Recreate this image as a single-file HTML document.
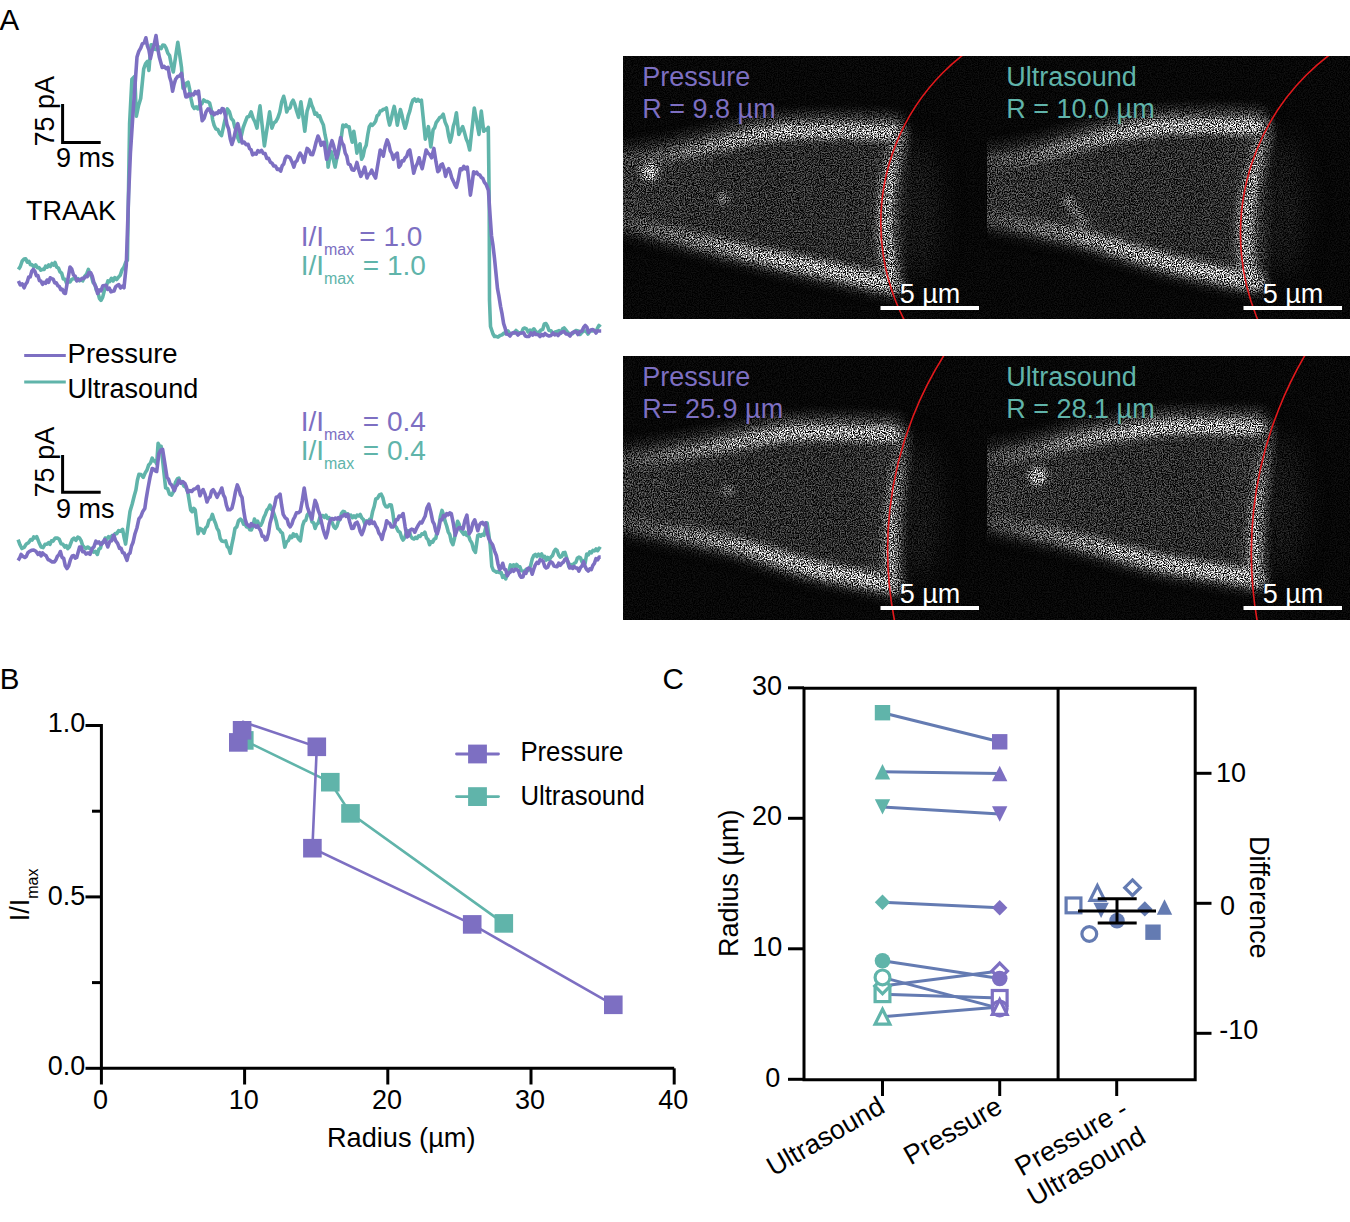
<!DOCTYPE html>
<html><head><meta charset="utf-8"><style>
html,body{margin:0;padding:0;background:#fff;overflow:hidden;}
svg{display:block;}
text{font-family:"Liberation Sans",sans-serif;}
</style></head><body>
<svg width="1350" height="1222" viewBox="0 0 1350 1222">
<rect width="1350" height="1222" fill="#fff"/>
<text x="-0.5" y="30" font-size="29.5" fill="#000" text-anchor="start" >A</text>
<polyline points="18.4,269.4 20.3,266.5 22.2,261.0 24.1,259.1 25.7,258.8 27.3,262.1 28.9,261.4 30.5,264.7 32.1,264.8 33.8,266.9 35.6,264.8 37.3,267.6 39.0,267.5 40.8,270.2 42.5,269.4 44.1,269.5 45.6,266.2 47.2,267.2 48.8,264.9 50.4,266.5 52.0,263.5 53.5,265.1 55.1,262.5 56.7,267.1 58.4,268.0 60.0,271.8 61.7,273.2 63.3,279.0 65.0,279.3 66.6,283.2 68.3,281.4 70.0,281.9 71.8,279.3 73.5,278.6 75.0,278.3 76.6,280.4 78.1,278.7 79.6,280.8 81.2,279.8 82.7,280.9 84.6,276.4 86.5,274.3 88.4,269.4 90.0,274.1 91.6,276.8 93.1,282.6 94.7,283.7 96.3,290.1 97.8,292.0 99.4,298.3 101.0,300.4 102.7,297.1 104.5,290.1 106.2,286.6 107.9,280.9 109.6,281.7 111.4,278.3 113.1,280.9 114.8,277.6 116.6,279.5 118.3,277.4 120.2,275.3 122.1,269.7 124.0,267.1 125.7,262.4 127.4,260.2 129.6,123.7 131.9,79.3 134.8,76.3 136.3,116.3 138.5,105.8 140.7,98.5 142.2,83.7 143.7,68.9 145.6,63.6 147.4,61.5 148.9,70.4 151.1,44.7 152.8,45.2 154.6,49.2 156.3,49.6 157.9,49.1 159.5,47.1 161.2,48.5 162.8,45.1 164.4,45.2 166.1,48.1 167.9,53.3 169.6,55.6 171.4,65.1 173.3,71.9 174.8,62.0 176.3,52.1 177.8,42.2 179.7,54.8 181.5,67.4 183.0,88.1 184.7,87.5 186.4,83.3 188.1,82.2 189.6,89.1 191.1,99.1 192.6,105.9 194.3,108.4 196.1,106.8 197.8,108.9 199.8,105.0 201.7,104.0 203.7,100.0 205.7,101.4 207.6,101.6 209.6,103.0 211.1,109.0 212.6,119.6 214.1,125.2 215.9,129.0 217.8,129.5 219.7,133.6 221.5,135.6 223.5,126.7 225.4,117.8 227.4,108.9 229.4,111.8 231.3,118.5 233.3,120.7 234.8,127.4 236.3,130.0 237.8,137.9 239.3,141.5 241.3,135.8 243.2,127.5 245.2,122.2 247.2,117.0 249.1,116.5 251.1,111.9 253.1,118.3 255.0,122.0 257.0,128.1 258.5,115.9 260.0,105.9 262.2,125.9 264.4,145.9 266.1,134.6 267.9,123.2 269.6,111.9 271.9,128.1 273.9,122.9 275.8,121.6 277.8,117.8 279.8,112.1 281.7,101.9 283.7,96.3 285.2,102.5 286.7,111.9 288.4,108.5 290.0,108.0 291.6,102.6 293.1,100.2 294.6,103.8 296.2,109.6 298.6,117.3 300.9,101.8 302.9,116.6 304.8,131.3 307.1,111.1 308.6,106.4 310.2,99.4 311.8,105.3 313.3,108.8 314.9,114.2 316.5,113.1 318.0,116.4 319.6,115.8 321.5,121.1 323.4,125.1 325.0,134.7 326.6,142.2 328.1,167.1 329.6,158.3 331.2,151.6 333.1,158.5 335.1,167.1 336.7,159.0 338.2,153.7 339.8,145.3 341.4,136.5 342.9,125.1 344.4,126.7 346.0,124.9 347.6,126.7 349.1,126.7 350.6,135.1 352.2,142.2 353.8,131.3 355.4,141.6 356.9,153.1 358.4,147.2 360.0,143.8 361.6,159.3 363.1,156.2 364.7,148.5 366.2,145.3 367.8,134.5 369.3,126.7 370.9,124.1 372.4,125.4 374.0,123.6 375.6,121.3 377.1,115.8 378.6,114.8 380.2,111.1 381.8,110.8 383.3,109.2 384.8,109.2 386.4,108.0 388.0,118.0 389.6,125.1 391.1,119.6 392.7,112.1 394.2,106.4 395.8,114.5 397.3,125.1 398.9,116.5 400.4,109.6 402.0,115.3 403.5,122.6 405.1,128.2 406.6,123.1 408.2,115.8 409.8,111.2 411.3,104.6 412.9,100.2 414.6,98.8 416.3,101.2 418.0,99.4 419.7,101.2 421.4,100.2 423.4,119.7 425.3,139.1 426.9,133.3 428.4,126.7 430.8,146.9 433.1,129.8 434.7,127.6 436.2,122.6 437.8,120.4 439.6,117.7 441.4,116.8 443.2,114.2 445.1,122.1 447.1,126.7 448.6,135.5 450.2,142.2 451.8,135.5 453.3,126.2 454.8,121.6 456.4,112.7 458.8,134.4 460.8,130.2 462.7,126.7 464.4,132.1 466.2,138.9 467.9,142.8 469.7,150.0 471.2,136.0 472.8,122.0 474.3,108.0 475.9,116.8 477.4,125.6 479.0,134.4 481.3,111.1 483.7,131.3 485.2,129.4 486.8,130.1 488.3,127.4 489.2,200.0 489.5,300.0 490.5,326.5 493.0,334.0 494.5,336.5 496.0,336.4 498.0,337.1 500.0,335.5 502.0,334.9 504.0,333.0 506.0,333.8 508.0,331.0 510.0,333.8 512.0,333.5 514.0,333.1 516.0,330.5 518.0,332.4 520.0,333.0 521.6,332.6 523.2,328.7 524.8,328.0 526.4,328.8 528.0,332.0 530.0,330.1 531.9,331.1 533.9,328.8 535.5,331.3 537.0,333.0 539.0,332.3 541.0,330.0 542.7,329.6 544.3,324.0 546.0,323.5 547.5,326.2 549.0,330.5 551.0,330.7 553.0,334.0 555.0,331.9 557.0,331.5 559.0,330.5 561.0,333.0 562.5,329.1 564.1,328.0 567.0,331.5 569.0,333.7 571.0,334.0 572.7,333.6 574.5,331.3 576.2,330.5 578.1,330.9 580.0,334.5 582.0,332.3 584.0,331.0 586.0,331.0 588.0,334.0 590.0,330.8 592.0,331.0 594.0,330.3 596.0,332.0 597.5,328.1 599.0,325.5 600.5,327.0" fill="none" stroke="#60b4aa" stroke-width="3.6" stroke-linejoin="round"/>
<polyline points="18.4,280.9 20.3,284.9 22.2,283.8 24.1,287.8 25.6,284.3 27.2,282.1 28.7,277.0 30.2,277.0 31.8,271.1 33.3,269.4 34.8,271.1 36.4,275.6 37.9,275.6 39.4,280.5 41.0,281.2 42.5,284.3 44.0,282.4 45.6,283.3 47.1,280.0 48.6,282.3 50.2,277.8 51.7,278.6 53.2,279.1 54.7,282.9 56.3,282.8 57.8,285.6 59.3,286.5 60.8,289.6 62.4,289.4 63.9,292.8 65.4,293.5 66.9,284.7 68.5,275.9 70.0,267.1 71.7,268.9 73.5,275.1 75.2,276.3 76.9,280.9 78.6,279.6 80.3,280.1 82.1,278.3 83.8,278.6 85.5,276.6 87.2,276.8 89.0,272.5 90.7,272.8 92.4,276.6 94.2,283.8 95.9,286.7 97.6,293.5 99.3,290.0 101.0,290.9 102.8,285.8 104.5,285.5 106.1,285.2 107.7,289.3 109.3,288.1 110.9,291.8 112.5,291.2 114.0,291.0 115.6,286.8 117.1,285.5 118.8,284.6 120.5,288.0 122.3,286.2 124.0,287.8 126.3,264.8 128.6,195.9 130.4,153.3 133.3,108.9 135.2,83.0 137.0,57.0 138.8,51.4 140.7,48.1 142.4,43.6 144.2,42.9 145.9,37.8 147.4,45.8 148.9,50.0 150.4,58.5 152.3,50.0 154.1,44.9 156.0,35.6 157.7,48.0 159.3,57.0 162.2,67.4 164.2,66.4 166.1,68.6 168.1,67.4 169.6,77.0 171.1,81.8 172.6,91.1 174.1,84.1 175.6,79.3 177.6,76.6 179.5,76.1 181.5,73.3 183.7,86.5 185.9,97.0 187.4,96.8 188.9,93.8 190.4,95.5 191.9,94.0 193.6,94.9 195.2,91.7 196.8,93.6 198.5,91.1 200.3,105.9 202.2,120.7 204.2,118.1 206.1,111.7 208.1,108.9 209.6,109.3 211.1,113.1 212.6,112.1 214.1,114.8 215.7,113.0 217.3,113.5 218.9,110.8 220.5,112.6 222.1,108.6 223.7,108.9 225.3,115.5 227.0,124.6 228.6,128.8 230.3,139.0 231.9,144.4 233.9,138.1 235.8,129.2 237.8,123.7 240.0,132.9 242.2,143.0 244.2,142.2 246.1,144.7 248.1,144.4 249.6,148.6 251.1,149.7 252.6,154.8 254.4,153.4 256.2,154.2 257.9,150.6 259.7,152.0 261.5,150.4 263.3,153.4 265.1,153.5 266.8,158.4 268.6,158.4 270.4,162.2 272.1,163.3 273.8,166.0 275.5,166.0 277.3,169.5 279.0,169.1 280.7,171.1 282.2,165.7 283.7,164.1 285.2,158.6 286.7,156.3 288.4,156.7 290.0,157.8 291.9,161.7 293.9,167.1 295.4,162.1 297.0,160.7 298.6,156.0 300.1,153.1 302.1,156.4 304.0,162.4 305.6,154.5 307.1,148.4 308.9,150.1 310.8,154.4 312.6,154.7 314.4,149.0 316.2,141.8 318.0,136.0 319.6,139.8 321.1,145.3 322.6,142.5 324.2,142.2 326.6,159.3 328.4,154.5 330.2,146.4 332.0,140.7 333.6,145.6 335.1,152.5 336.7,157.8 338.6,148.7 340.6,137.6 342.1,142.9 343.7,145.3 345.2,153.0 346.8,156.1 348.3,164.0 350.1,164.6 352.0,169.7 353.8,170.2 355.4,167.7 356.9,162.4 358.9,170.4 360.8,176.4 362.8,172.4 364.7,167.1 367.0,178.0 368.6,174.1 370.1,173.6 371.7,170.2 373.6,174.6 375.6,178.0 377.1,168.7 378.7,159.3 380.2,150.0 381.8,152.1 383.3,156.2 385.2,146.4 387.2,139.9 388.8,144.2 390.3,150.8 391.8,153.5 393.4,159.3 395.4,155.1 397.3,153.1 398.9,167.1 400.4,165.3 402.0,160.7 403.6,160.9 405.1,157.8 406.7,156.4 408.2,151.6 409.8,150.0 411.8,161.3 413.7,173.3 415.5,167.0 417.3,163.5 419.1,157.8 420.6,163.7 422.2,168.7 424.1,159.8 426.1,150.0 427.9,153.2 429.8,154.7 431.6,157.8 433.9,148.4 435.9,161.4 437.8,171.8 439.3,170.3 440.9,164.8 442.4,164.0 444.0,168.5 445.6,176.4 447.1,170.8 448.7,168.7 450.2,172.1 451.8,178.0 453.3,181.1 454.9,184.9 456.4,187.3 458.4,179.2 460.3,168.7 462.1,169.6 463.8,166.4 465.6,168.9 467.3,167.1 468.9,181.1 470.4,195.1 472.0,184.2 473.6,171.8 475.2,173.5 476.7,172.2 478.2,174.5 479.8,174.9 481.4,177.6 482.9,178.6 484.4,182.4 486.0,184.2 488.4,190.3 489.9,213.0 491.5,235.7 493.0,245.6 494.5,258.4 496.0,273.5 497.5,288.7 499.0,296.7 500.6,306.6 502.1,314.2 503.6,323.5 505.1,328.1 506.6,334.1 508.3,334.4 510.0,336.0 512.0,333.1 514.0,332.5 516.0,332.7 518.0,335.0 520.0,333.2 522.0,333.0 523.7,332.9 525.3,336.0 527.0,336.5 529.0,336.4 531.0,333.0 532.7,335.2 534.3,332.6 536.0,334.5 538.0,334.5 540.0,336.5 541.7,334.4 543.3,335.7 545.0,333.5 547.0,335.2 549.0,336.0 551.0,335.5 553.0,333.0 554.7,334.9 556.3,334.0 558.0,335.5 560.0,333.3 562.0,332.0 564.0,331.5 566.0,334.0 568.0,334.1 570.0,336.0 572.0,332.9 574.0,332.0 576.0,331.6 578.0,334.5 580.0,331.5 582.0,331.0 583.6,327.5 585.3,325.5 586.9,327.2 588.5,332.5 590.7,330.1 592.9,329.5 594.5,330.9 596.0,333.0 597.5,330.7 599.0,331.0 601.2,331.0" fill="none" stroke="#7d6fc2" stroke-width="3.6" stroke-linejoin="round"/>
<polyline points="18.1,539.6 20.0,544.8 21.9,548.5 24.1,547.4 26.3,544.1 28.5,542.7 30.7,539.6 32.2,540.1 33.7,536.9 35.2,537.9 36.7,536.7 38.9,542.2 41.1,547.0 43.1,547.6 45.0,544.3 47.0,544.1 48.5,542.7 50.0,544.4 51.5,540.8 53.0,541.1 55.2,538.0 57.4,538.1 59.2,539.3 61.1,543.8 62.9,544.2 64.8,547.0 66.3,545.7 67.8,548.6 69.3,547.0 72.2,539.6 74.0,538.1 75.9,540.3 77.8,537.1 79.6,538.1 81.1,540.6 82.6,545.5 84.1,547.0 85.9,548.6 87.8,547.0 89.7,548.5 91.5,548.5 93.5,552.1 95.4,551.4 97.4,554.4 98.9,549.1 100.4,548.2 101.9,542.6 103.6,542.5 105.2,538.0 106.8,539.1 108.5,536.7 110.2,538.2 112.0,535.7 113.7,536.7 115.2,533.5 116.7,533.7 118.7,530.6 120.6,531.3 122.6,529.3 124.1,537.3 125.6,544.1 127.8,527.8 130.0,511.5 132.2,504.0 134.4,495.2 135.9,490.0 137.4,480.3 138.9,474.4 141.1,474.6 143.3,477.4 145.2,472.9 147.0,470.0 148.7,464.9 150.5,463.0 152.2,458.1 153.7,461.0 155.2,460.9 156.7,464.1 158.1,443.3 159.6,446.0 161.1,446.3 162.6,460.1 164.1,474.0 165.6,487.8 167.6,488.6 169.5,494.1 171.5,495.2 173.5,491.5 175.4,482.7 177.4,478.9 178.9,478.1 180.4,482.2 181.9,481.9 183.9,485.9 185.8,487.2 187.8,492.2 190.7,510.0 192.2,511.7 193.7,508.3 195.2,510.0 198.1,533.7 200.0,528.4 201.9,529.6 203.9,533.1 205.6,528.0 207.3,526.3 209.0,520.3 210.7,519.3 212.4,514.4 214.0,519.8 215.5,523.3 217.1,528.4 218.7,531.0 220.2,538.5 221.8,540.9 223.8,541.4 225.7,540.9 227.2,546.5 228.8,548.2 230.3,553.3 231.9,544.4 233.4,537.5 235.0,528.4 236.8,526.8 238.6,520.6 240.4,519.1 242.0,520.6 243.6,524.2 245.1,524.5 246.7,526.9 248.2,526.5 249.8,529.8 251.3,530.0 252.9,526.2 254.4,519.1 256.0,522.4 257.6,521.1 259.1,525.5 260.7,525.3 262.2,522.5 263.8,517.6 265.3,514.4 266.9,510.1 268.4,508.6 270.0,505.1 271.6,509.4 273.1,511.4 274.7,516.0 276.2,521.0 277.8,528.4 279.3,529.4 280.9,532.0 282.4,533.1 284.8,547.1 286.6,541.9 288.4,540.6 290.2,536.2 291.8,537.6 293.3,533.8 294.8,536.0 296.4,534.7 298.4,538.8 300.3,540.9 302.7,525.3 304.2,521.1 305.8,520.4 307.3,514.8 308.9,512.9 310.4,515.6 312.0,521.9 313.6,522.8 315.1,528.4 316.7,524.2 318.2,523.2 319.8,517.7 321.3,516.0 322.9,515.6 324.4,517.4 326.0,515.2 327.5,518.4 329.1,517.6 330.7,521.4 332.2,522.6 333.8,526.7 335.3,528.4 336.9,526.2 338.4,521.2 340.0,519.4 341.5,513.4 343.1,511.3 344.7,512.0 346.2,514.9 347.8,513.8 349.3,516.0 350.9,515.1 352.5,517.7 354.0,515.8 355.6,517.6 357.1,515.1 358.7,515.9 360.2,514.4 361.8,518.0 363.3,519.3 364.9,523.8 366.4,520.9 368.0,522.2 369.6,519.3 371.1,519.1 372.7,511.2 374.2,506.5 375.8,498.9 377.6,498.2 379.4,495.0 381.2,494.2 382.8,497.5 384.3,503.8 385.9,506.7 387.7,507.0 389.5,504.7 391.3,505.1 392.9,513.7 394.4,525.3 396.3,527.2 398.1,531.1 400.0,532.2 401.6,537.5 403.1,540.0 404.7,537.7 406.2,533.1 407.8,530.7 409.3,531.7 410.9,536.5 412.4,538.4 414.0,539.0 415.5,537.4 417.1,538.4 418.7,535.8 420.2,536.4 421.8,533.9 423.3,534.3 424.9,532.2 426.5,537.9 428.0,539.5 429.6,544.7 431.2,541.5 432.7,542.2 434.2,539.1 435.8,538.4 437.4,530.1 438.9,526.0 440.4,516.4 442.0,510.4 443.6,514.9 445.1,521.3 446.7,526.0 448.2,531.8 449.8,534.7 451.3,541.5 452.9,544.7 454.5,538.5 456.0,528.5 457.6,521.3 459.1,524.2 460.7,530.1 462.2,532.2 463.8,534.3 465.3,532.2 466.8,535.4 468.4,535.3 470.1,540.1 471.9,543.1 473.6,549.6 475.4,552.4 477.8,535.3 479.4,534.5 480.9,536.2 482.4,534.3 484.0,535.3 485.6,528.1 487.1,522.9 488.6,532.9 490.2,544.7 491.8,566.4 493.4,570.4 494.9,571.1 496.5,572.2 498.0,571.8 499.6,572.7 501.2,572.5 502.7,577.4 504.2,575.6 505.8,578.9 507.3,573.2 508.9,571.3 510.4,564.9 512.0,566.9 513.5,564.8 515.1,567.2 516.6,564.5 518.2,566.4 519.8,566.7 521.3,570.6 522.9,571.1 524.5,571.5 526.0,569.5 527.5,570.7 529.1,569.6 530.7,565.4 532.2,559.1 533.8,555.6 535.4,554.5 536.9,556.5 538.5,554.2 540.0,556.0 541.6,554.0 543.1,557.4 544.7,556.4 546.2,560.2 547.8,557.5 549.3,559.8 550.9,557.1 552.5,555.7 554.0,551.5 555.6,549.3 557.1,550.5 558.7,555.1 560.2,557.1 561.8,556.3 563.3,552.7 564.9,552.4 566.8,558.3 568.8,566.4 570.6,564.4 572.4,566.0 574.2,563.3 575.8,562.5 577.3,558.3 578.9,557.1 580.5,557.9 582.0,561.8 583.5,560.7 585.1,563.3 586.7,554.0 588.3,554.9 589.8,551.9 591.4,552.8 592.9,550.4 594.5,550.9 596.0,549.0 597.6,550.7 599.2,548.2 600.7,549.3" fill="none" stroke="#60b4aa" stroke-width="3.6" stroke-linejoin="round"/>
<polyline points="18.1,560.4 19.6,558.1 21.1,554.4 23.0,556.4 24.8,557.4 26.3,556.4 27.8,552.9 29.3,551.5 31.5,550.3 33.7,550.0 35.9,551.3 38.1,554.4 39.6,552.7 41.1,555.9 42.6,552.9 44.1,554.4 46.1,555.7 48.0,559.5 50.0,560.4 52.2,561.9 54.4,561.9 55.9,559.9 57.4,556.2 58.9,554.8 60.4,551.5 62.0,557.4 63.7,558.4 65.3,565.8 67.0,568.5 68.7,565.8 70.5,559.5 72.2,555.9 73.7,555.6 75.2,558.2 76.7,557.4 79.6,547.0 81.1,547.1 82.6,551.6 84.1,551.5 86.1,554.1 88.0,552.9 90.0,554.4 92.0,548.7 93.9,546.9 95.9,541.1 97.4,542.9 98.9,542.0 100.4,544.4 101.9,544.1 104.8,539.6 106.3,542.8 107.8,547.0 109.8,541.4 111.7,540.7 113.7,535.2 115.7,540.8 117.6,543.3 119.6,548.5 121.1,548.3 122.6,552.7 124.1,553.0 127.0,560.4 128.5,554.3 130.0,553.1 131.5,546.0 133.0,542.6 135.0,533.7 136.9,528.0 138.9,518.9 140.9,516.4 142.8,511.4 144.8,508.5 146.3,498.1 147.8,489.3 150.0,477.4 152.2,468.5 153.7,469.1 155.2,470.9 156.7,471.5 158.9,453.7 160.8,450.2 162.6,449.3 164.8,463.4 167.0,477.4 168.5,479.1 170.0,483.5 171.5,484.8 174.4,490.7 175.9,486.2 177.4,484.7 178.9,480.4 180.9,483.2 182.8,481.7 184.8,483.3 186.3,486.8 187.8,492.2 189.8,490.6 191.7,491.5 193.7,489.3 195.9,488.6 198.1,486.3 200.0,495.8 201.6,491.8 203.1,489.6 205.1,494.4 207.0,502.0 208.6,498.1 210.1,497.0 211.6,491.0 213.2,489.6 215.1,492.9 217.1,497.3 218.7,493.8 220.2,491.8 221.8,488.0 223.4,494.9 224.9,497.7 226.4,505.1 228.0,509.8 229.9,509.8 231.9,508.2 233.7,501.0 235.5,491.6 237.3,484.9 238.9,488.6 240.4,494.5 242.0,497.3 243.6,509.9 245.1,519.1 246.6,523.9 248.2,525.3 249.8,526.7 251.3,523.6 252.8,525.7 254.4,525.3 256.0,527.1 257.5,525.6 259.1,528.4 260.6,530.8 262.2,536.2 263.8,536.3 265.3,540.0 266.9,539.3 268.5,533.3 270.0,523.3 271.6,517.6 273.1,510.1 274.7,504.7 276.2,497.3 278.1,496.7 280.1,494.2 281.6,504.9 283.2,514.4 285.1,517.7 287.1,519.1 288.6,524.7 290.2,526.9 291.8,524.2 293.3,519.5 294.8,516.8 296.4,512.9 298.4,512.7 300.3,511.3 302.2,501.1 304.2,488.0 305.8,498.2 307.3,506.7 308.9,511.6 310.4,514.5 312.0,519.1 313.6,508.0 315.1,500.4 316.7,504.1 318.2,510.4 319.8,514.4 321.4,521.8 322.9,528.4 324.4,533.5 326.0,537.8 327.6,532.2 329.1,524.0 330.7,519.1 332.2,518.5 333.8,519.5 335.3,518.0 336.9,519.1 338.4,517.6 340.0,519.3 341.6,516.2 343.1,516.0 344.7,514.3 346.2,516.4 347.8,514.4 349.8,522.3 351.7,528.4 353.5,528.1 355.3,523.2 357.1,522.2 358.7,525.7 360.2,531.5 361.8,534.7 363.3,530.9 364.9,525.4 366.4,522.2 368.0,521.5 369.5,523.8 371.1,520.6 372.6,523.3 374.2,522.2 375.8,526.0 377.3,528.3 378.9,533.2 380.4,535.2 382.0,539.3 383.6,532.4 385.1,528.5 386.7,520.7 388.2,522.8 389.8,523.4 391.3,527.0 392.9,526.9 394.4,525.3 396.0,519.7 397.6,519.7 399.1,516.0 401.1,516.5 403.1,513.6 405.1,526.6 407.0,536.9 408.6,535.8 410.1,530.3 411.7,529.1 413.2,529.6 414.8,532.2 416.8,527.8 418.7,524.4 420.2,522.2 421.8,523.0 423.3,519.8 425.1,516.3 427.0,507.7 428.8,504.2 430.8,511.9 432.7,521.3 434.2,524.2 435.8,531.1 437.3,533.8 438.9,528.1 440.4,519.8 442.0,519.8 443.5,515.6 445.1,516.5 446.7,513.6 448.2,514.9 449.8,512.9 451.3,513.6 453.2,522.8 455.2,535.3 457.1,529.7 459.1,527.6 461.1,527.9 463.0,529.1 464.9,520.3 466.9,515.1 469.2,533.8 471.0,530.9 472.9,523.1 474.7,519.8 476.2,524.8 477.8,530.7 479.4,525.1 480.9,522.9 482.5,522.4 484.0,524.7 485.6,522.9 487.1,532.0 488.7,538.4 490.6,542.0 492.6,544.7 494.5,550.8 496.4,555.6 498.0,563.9 499.6,569.6 501.1,567.6 502.7,563.3 504.2,568.9 505.8,569.9 507.3,575.8 508.9,573.1 510.4,572.0 512.0,569.6 513.6,571.3 515.1,569.2 516.7,569.6 518.2,570.5 519.8,575.3 521.3,577.3 522.9,577.0 524.4,572.1 526.0,573.3 527.5,568.7 529.1,568.0 530.7,569.5 532.2,574.2 533.8,568.9 535.3,564.9 536.9,562.4 538.5,563.4 540.0,559.7 541.6,560.2 543.1,561.3 544.7,566.4 546.2,568.0 547.8,567.1 549.3,563.5 550.9,561.8 552.5,562.9 554.0,566.1 555.6,566.4 557.1,566.7 558.7,563.2 560.2,565.3 561.8,563.3 563.3,562.3 564.9,559.4 566.4,558.7 568.0,561.9 569.6,568.0 571.1,566.9 572.7,568.4 574.2,566.4 575.8,568.0 577.3,568.0 578.9,571.1 580.5,567.5 582.0,566.0 583.6,561.8 585.2,566.6 586.7,569.6 588.2,571.1 589.8,568.8 591.3,569.6 592.9,565.3 594.4,563.4 596.0,558.7 597.6,559.9 599.1,557.1 600.7,557.1" fill="none" stroke="#7d6fc2" stroke-width="3.6" stroke-linejoin="round"/>
<path d="M62.6 104 V142.5 H100.7" fill="none" stroke="#000" stroke-width="3"/>
<path d="M62.6 455 V492.2 H100.7" fill="none" stroke="#000" stroke-width="3"/>
<text x="0" y="0" font-size="27" fill="#000" text-anchor="start" transform="translate(53.6,146.6) rotate(-90)">75 pA</text>
<text x="0" y="0" font-size="27" fill="#000" text-anchor="start" transform="translate(53.6,497.4) rotate(-90)">75 pA</text>
<text x="56" y="167" font-size="27" fill="#000" text-anchor="start" >9 ms</text>
<text x="56" y="518" font-size="27" fill="#000" text-anchor="start" >9 ms</text>
<text x="26" y="220" font-size="27" fill="#000" text-anchor="start" >TRAAK</text>
<text x="300.7" y="245.7" font-size="28" fill="#7d6fc2">I/I<tspan font-size="16" dy="9">max</tspan><tspan dy="-9" dx="-2.8"> = 1.0</tspan></text>
<text x="300.7" y="274.8" font-size="28" fill="#60b4aa">I/I<tspan font-size="16" dy="9">max</tspan><tspan dy="-9" dx="0.8"> = 1.0</tspan></text>
<text x="300.7" y="430.7" font-size="28" fill="#7d6fc2">I/I<tspan font-size="16" dy="9">max</tspan><tspan dy="-9" dx="0.8"> = 0.4</tspan></text>
<text x="300.7" y="459.8" font-size="28" fill="#60b4aa">I/I<tspan font-size="16" dy="9">max</tspan><tspan dy="-9" dx="0.8"> = 0.4</tspan></text>
<line x1="24.2" y1="355.5" x2="65.8" y2="355.5" stroke="#7d6fc2" stroke-width="3"/>
<line x1="24.2" y1="382" x2="65.8" y2="382" stroke="#60b4aa" stroke-width="3"/>
<text x="67.6" y="363" font-size="27.5" fill="#000" text-anchor="start" >Pressure</text>
<text x="67.6" y="397.5" font-size="27" fill="#000" text-anchor="start" >Ultrasound</text>
<filter id="b2" filterUnits="userSpaceOnUse" x="-60" y="-60" width="490" height="390" color-interpolation-filters="sRGB"><feGaussianBlur stdDeviation="2"/></filter>
<filter id="b3" filterUnits="userSpaceOnUse" x="-60" y="-60" width="490" height="390" color-interpolation-filters="sRGB"><feGaussianBlur stdDeviation="3"/></filter>
<filter id="b4" filterUnits="userSpaceOnUse" x="-60" y="-60" width="490" height="390" color-interpolation-filters="sRGB"><feGaussianBlur stdDeviation="4"/></filter>
<filter id="b6" filterUnits="userSpaceOnUse" x="-60" y="-60" width="490" height="390" color-interpolation-filters="sRGB"><feGaussianBlur stdDeviation="6"/></filter>
<filter id="b8" filterUnits="userSpaceOnUse" x="-60" y="-60" width="490" height="390" color-interpolation-filters="sRGB"><feGaussianBlur stdDeviation="8"/></filter>
<filter id="b12" filterUnits="userSpaceOnUse" x="-60" y="-60" width="490" height="390" color-interpolation-filters="sRGB"><feGaussianBlur stdDeviation="12"/></filter>
<linearGradient id="bandg" gradientUnits="userSpaceOnUse" x1="0" y1="0" x2="290" y2="0"><stop offset="0" stop-color="#383838"/><stop offset="0.3" stop-color="#6e6e6e"/><stop offset="0.55" stop-color="#989898"/><stop offset="1" stop-color="#a4a4a4"/></linearGradient>
<linearGradient id="intg" gradientUnits="userSpaceOnUse" x1="0" y1="0" x2="290" y2="0"><stop offset="0" stop-color="#303030"/><stop offset="0.35" stop-color="#2a2a2a"/><stop offset="0.8" stop-color="#282828"/><stop offset="1" stop-color="#343434"/></linearGradient>
<clipPath id="mc0"><rect x="0" y="0" width="364" height="263"/></clipPath>
<linearGradient id="rgp0" gradientUnits="userSpaceOnUse" x1="268" y1="0" x2="292" y2="0"><stop offset="0" stop-color="#fff"/><stop offset="1" stop-color="#000"/></linearGradient>
<linearGradient id="rgh0" gradientUnits="userSpaceOnUse" x1="262" y1="0" x2="300" y2="0"><stop offset="0" stop-color="#fff"/><stop offset="1" stop-color="#000"/></linearGradient>
<mask id="mp0" maskUnits="userSpaceOnUse" x="-50" y="-50" width="464" height="363"><rect x="-50" y="-50" width="464" height="363" fill="url(#rgp0)"/></mask>
<mask id="mh0" maskUnits="userSpaceOnUse" x="-50" y="-50" width="464" height="363"><rect x="-50" y="-50" width="464" height="363" fill="url(#rgh0)"/></mask>
<filter id="spk0" x="0" y="0" width="364" height="263" filterUnits="userSpaceOnUse" color-interpolation-filters="sRGB"><feTurbulence type="fractalNoise" baseFrequency="0.85" numOctaves="2" seed="11" result="t"/><feColorMatrix in="t" type="matrix" values="3.0 0 0 0 -1.05  3.0 0 0 0 -1.05  3.0 0 0 0 -1.05  0 0 0 0 1" result="n"/><feComposite in="SourceGraphic" in2="n" operator="arithmetic" k1="2.3" k2="0" k3="0" k4="0" result="m"/><feGaussianBlur in="m" stdDeviation="0.45"/></filter>
<g transform="translate(623,56)" clip-path="url(#mc0)">
<g filter="url(#spk0)">
<rect x="0" y="0" width="364" height="263" fill="#070707"/>
<ellipse cx="296" cy="153.5" rx="20" ry="70.5" fill="#161616" filter="url(#b12)"/>
<g mask="url(#mh0)"><polygon points="-10,106 40,100 92,89 130,80 161,76 210,75 258,76 284,77 278,230 258,226 210,215 161,205 92,189 40,176 -10,163" fill="#1c1c1c" stroke="#1c1c1c" stroke-width="18" stroke-linejoin="round" filter="url(#b8)"/></g>
<g mask="url(#mp0)">
<polygon points="-10,106 40,100 92,89 130,80 161,76 210,75 258,76 284,77 278,230 258,226 210,215 161,205 92,189 40,176 -10,163" fill="url(#intg)" stroke="url(#intg)" stroke-width="6" filter="url(#b3)"/>
<path d="M-10,99 C-1.7,98.0 23.0,95.8 40.0,93.0 C57.0,90.2 77.0,85.3 92.0,82.0 C107.0,78.7 118.5,75.2 130.0,73.0 C141.5,70.8 147.7,69.8 161.0,69.0 C174.3,68.2 193.8,68.0 210.0,68.0 C226.2,68.0 245.7,68.7 258.0,69.0 C270.3,69.3 279.7,69.8 284.0,70.0" fill="none" stroke="url(#bandg)" stroke-opacity="0.33" stroke-width="22" filter="url(#b6)"/>
<path d="M-10,166 C-1.7,168.2 23.0,174.7 40.0,179.0 C57.0,183.3 71.8,187.2 92.0,192.0 C112.2,196.8 141.3,203.7 161.0,208.0 C180.7,212.3 193.8,214.5 210.0,218.0 C226.2,221.5 246.7,226.5 258.0,229.0 C269.3,231.5 274.7,232.3 278.0,233.0" fill="none" stroke="url(#bandg)" stroke-opacity="0.3" stroke-width="18" filter="url(#b6)"/>
<path d="M-10,106 C-1.7,105.0 23.0,102.8 40.0,100.0 C57.0,97.2 77.0,92.3 92.0,89.0 C107.0,85.7 118.5,82.2 130.0,80.0 C141.5,77.8 147.7,76.8 161.0,76.0 C174.3,75.2 193.8,75.0 210.0,75.0 C226.2,75.0 245.7,75.7 258.0,76.0 C270.3,76.3 279.7,76.8 284.0,77.0" fill="none" stroke="url(#bandg)" stroke-width="12" filter="url(#b4)"/>
<path d="M-10,163 C-1.7,165.2 23.0,171.7 40.0,176.0 C57.0,180.3 71.8,184.2 92.0,189.0 C112.2,193.8 141.3,200.7 161.0,205.0 C180.7,209.3 193.8,211.5 210.0,215.0 C226.2,218.5 246.7,223.5 258.0,226.0 C269.3,228.5 274.7,229.3 278.0,230.0" fill="none" stroke="url(#bandg)" stroke-width="13" filter="url(#b4)"/>
<path d="M284.2,75 A207.7,207.7 0 0,0 273.3,232" fill="none" stroke="#7a7a7a" stroke-width="16" filter="url(#b4)"/>
<circle cx="27" cy="116" r="9" fill="#fff" fill-opacity="0.45" filter="url(#b3)"/>
<circle cx="100" cy="142" r="6" fill="#fff" fill-opacity="0.25" filter="url(#b3)"/>
</g>
</g>
<circle cx="470.5" cy="166.9" r="212.7" fill="none" stroke="#e3191c" stroke-width="1.6"/>
</g>
<text x="642.3" y="85.9" font-size="27" fill="#7d6fc2">Pressure</text>
<text x="642.3" y="117.9" font-size="27" fill="#7d6fc2">R = 9.8 µm</text>
<rect x="880.5" y="306" width="98.5" height="4" fill="#fff"/>
<text x="930.0" y="303.2" font-size="27" fill="#fff" text-anchor="middle">5 µm</text>
<clipPath id="mc1"><rect x="0" y="0" width="363" height="263"/></clipPath>
<linearGradient id="rgp1" gradientUnits="userSpaceOnUse" x1="268" y1="0" x2="292" y2="0"><stop offset="0" stop-color="#fff"/><stop offset="1" stop-color="#000"/></linearGradient>
<linearGradient id="rgh1" gradientUnits="userSpaceOnUse" x1="262" y1="0" x2="300" y2="0"><stop offset="0" stop-color="#fff"/><stop offset="1" stop-color="#000"/></linearGradient>
<mask id="mp1" maskUnits="userSpaceOnUse" x="-50" y="-50" width="463" height="363"><rect x="-50" y="-50" width="463" height="363" fill="url(#rgp1)"/></mask>
<mask id="mh1" maskUnits="userSpaceOnUse" x="-50" y="-50" width="463" height="363"><rect x="-50" y="-50" width="463" height="363" fill="url(#rgh1)"/></mask>
<filter id="spk1" x="0" y="0" width="363" height="263" filterUnits="userSpaceOnUse" color-interpolation-filters="sRGB"><feTurbulence type="fractalNoise" baseFrequency="0.85" numOctaves="2" seed="12" result="t"/><feColorMatrix in="t" type="matrix" values="3.0 0 0 0 -1.05  3.0 0 0 0 -1.05  3.0 0 0 0 -1.05  0 0 0 0 1" result="n"/><feComposite in="SourceGraphic" in2="n" operator="arithmetic" k1="2.3" k2="0" k3="0" k4="0" result="m"/><feGaussianBlur in="m" stdDeviation="0.45"/></filter>
<g transform="translate(987,56)" clip-path="url(#mc1)">
<g filter="url(#spk1)">
<rect x="0" y="0" width="363" height="263" fill="#070707"/>
<ellipse cx="296" cy="149.5" rx="20" ry="71.5" fill="#161616" filter="url(#b12)"/>
<g mask="url(#mh1)"><polygon points="-10,106 40,101 94,87 140,76 175,71 230,70 277,71 284,72 278,227 272,226 230,218 175,205 94,181 40,170 -10,160" fill="#1c1c1c" stroke="#1c1c1c" stroke-width="18" stroke-linejoin="round" filter="url(#b8)"/></g>
<g mask="url(#mp1)">
<polygon points="-10,106 40,101 94,87 140,76 175,71 230,70 277,71 284,72 278,227 272,226 230,218 175,205 94,181 40,170 -10,160" fill="url(#intg)" stroke="url(#intg)" stroke-width="6" filter="url(#b3)"/>
<path d="M-10,99 C-1.7,98.2 22.7,97.2 40.0,94.0 C57.3,90.8 77.3,84.2 94.0,80.0 C110.7,75.8 126.5,71.7 140.0,69.0 C153.5,66.3 160.0,65.0 175.0,64.0 C190.0,63.0 213.0,63.0 230.0,63.0 C247.0,63.0 268.0,63.7 277.0,64.0 C286.0,64.3 282.8,64.8 284.0,65.0" fill="none" stroke="url(#bandg)" stroke-opacity="0.33" stroke-width="22" filter="url(#b6)"/>
<path d="M-10,163 C-1.7,164.7 22.7,169.5 40.0,173.0 C57.3,176.5 71.5,178.2 94.0,184.0 C116.5,189.8 152.3,201.8 175.0,208.0 C197.7,214.2 213.8,217.5 230.0,221.0 C246.2,224.5 264.0,227.5 272.0,229.0 C280.0,230.5 277.0,229.8 278.0,230.0" fill="none" stroke="url(#bandg)" stroke-opacity="0.3" stroke-width="18" filter="url(#b6)"/>
<path d="M-10,106 C-1.7,105.2 22.7,104.2 40.0,101.0 C57.3,97.8 77.3,91.2 94.0,87.0 C110.7,82.8 126.5,78.7 140.0,76.0 C153.5,73.3 160.0,72.0 175.0,71.0 C190.0,70.0 213.0,70.0 230.0,70.0 C247.0,70.0 268.0,70.7 277.0,71.0 C286.0,71.3 282.8,71.8 284.0,72.0" fill="none" stroke="url(#bandg)" stroke-width="12" filter="url(#b4)"/>
<path d="M-10,160 C-1.7,161.7 22.7,166.5 40.0,170.0 C57.3,173.5 71.5,175.2 94.0,181.0 C116.5,186.8 152.3,198.8 175.0,205.0 C197.7,211.2 213.8,214.5 230.0,218.0 C246.2,221.5 264.0,224.5 272.0,226.0 C280.0,227.5 277.0,226.8 278.0,227.0" fill="none" stroke="url(#bandg)" stroke-width="13" filter="url(#b4)"/>
<path d="M286.8,70 A218.9,218.9 0 0,0 264.6,229" fill="none" stroke="#7a7a7a" stroke-width="16" filter="url(#b4)"/>
<circle cx="82" cy="146" r="6" fill="#fff" fill-opacity="0.25" filter="url(#b3)"/>
<circle cx="89" cy="156" r="6" fill="#fff" fill-opacity="0.25" filter="url(#b3)"/>
<circle cx="96" cy="166" r="6" fill="#fff" fill-opacity="0.22" filter="url(#b3)"/>
</g>
</g>
<circle cx="477.4" cy="177.6" r="223.9" fill="none" stroke="#e3191c" stroke-width="1.6"/>
</g>
<text x="1006.3" y="85.9" font-size="27" fill="#60b4aa">Ultrasound</text>
<text x="1006.3" y="117.9" font-size="27" fill="#60b4aa">R = 10.0 µm</text>
<rect x="1243.5" y="306" width="98.5" height="4" fill="#fff"/>
<text x="1293.0" y="303.2" font-size="27" fill="#fff" text-anchor="middle">5 µm</text>
<clipPath id="mc2"><rect x="0" y="0" width="364" height="264"/></clipPath>
<linearGradient id="rgp2" gradientUnits="userSpaceOnUse" x1="268" y1="0" x2="292" y2="0"><stop offset="0" stop-color="#fff"/><stop offset="1" stop-color="#000"/></linearGradient>
<linearGradient id="rgh2" gradientUnits="userSpaceOnUse" x1="262" y1="0" x2="300" y2="0"><stop offset="0" stop-color="#fff"/><stop offset="1" stop-color="#000"/></linearGradient>
<mask id="mp2" maskUnits="userSpaceOnUse" x="-50" y="-50" width="464" height="364"><rect x="-50" y="-50" width="464" height="364" fill="url(#rgp2)"/></mask>
<mask id="mh2" maskUnits="userSpaceOnUse" x="-50" y="-50" width="464" height="364"><rect x="-50" y="-50" width="464" height="364" fill="url(#rgh2)"/></mask>
<filter id="spk2" x="0" y="0" width="364" height="264" filterUnits="userSpaceOnUse" color-interpolation-filters="sRGB"><feTurbulence type="fractalNoise" baseFrequency="0.85" numOctaves="2" seed="13" result="t"/><feColorMatrix in="t" type="matrix" values="3.0 0 0 0 -1.05  3.0 0 0 0 -1.05  3.0 0 0 0 -1.05  0 0 0 0 1" result="n"/><feComposite in="SourceGraphic" in2="n" operator="arithmetic" k1="2.3" k2="0" k3="0" k4="0" result="m"/><feGaussianBlur in="m" stdDeviation="0.45"/></filter>
<g transform="translate(623,356)" clip-path="url(#mc2)">
<g filter="url(#spk2)">
<rect x="0" y="0" width="364" height="264" fill="#070707"/>
<ellipse cx="296" cy="154.5" rx="20" ry="69.5" fill="#161616" filter="url(#b12)"/>
<g mask="url(#mh2)"><polygon points="-10,106 40,100 108,88 161,78 216,77 258,78 284,79 278,230 258,226 188,212 108,188 40,175 -10,165" fill="#1c1c1c" stroke="#1c1c1c" stroke-width="18" stroke-linejoin="round" filter="url(#b8)"/></g>
<g mask="url(#mp2)">
<polygon points="-10,106 40,100 108,88 161,78 216,77 258,78 284,79 278,230 258,226 188,212 108,188 40,175 -10,165" fill="url(#intg)" stroke="url(#intg)" stroke-width="6" filter="url(#b3)"/>
<path d="M-10,99 C-1.7,98.0 20.3,96.0 40.0,93.0 C59.7,90.0 87.8,84.7 108.0,81.0 C128.2,77.3 143.0,72.8 161.0,71.0 C179.0,69.2 199.8,70.0 216.0,70.0 C232.2,70.0 246.7,70.7 258.0,71.0 C269.3,71.3 279.7,71.8 284.0,72.0" fill="none" stroke="url(#bandg)" stroke-opacity="0.33" stroke-width="22" filter="url(#b6)"/>
<path d="M-10,168 C-1.7,169.7 20.3,174.2 40.0,178.0 C59.7,181.8 83.3,184.8 108.0,191.0 C132.7,197.2 163.0,208.7 188.0,215.0 C213.0,221.3 243.0,226.0 258.0,229.0 C273.0,232.0 274.7,232.3 278.0,233.0" fill="none" stroke="url(#bandg)" stroke-opacity="0.3" stroke-width="18" filter="url(#b6)"/>
<path d="M-10,106 C-1.7,105.0 20.3,103.0 40.0,100.0 C59.7,97.0 87.8,91.7 108.0,88.0 C128.2,84.3 143.0,79.8 161.0,78.0 C179.0,76.2 199.8,77.0 216.0,77.0 C232.2,77.0 246.7,77.7 258.0,78.0 C269.3,78.3 279.7,78.8 284.0,79.0" fill="none" stroke="url(#bandg)" stroke-width="12" filter="url(#b4)"/>
<path d="M-10,165 C-1.7,166.7 20.3,171.2 40.0,175.0 C59.7,178.8 83.3,181.8 108.0,188.0 C132.7,194.2 163.0,205.7 188.0,212.0 C213.0,218.3 243.0,223.0 258.0,226.0 C273.0,229.0 274.7,229.3 278.0,230.0" fill="none" stroke="url(#bandg)" stroke-width="13" filter="url(#b4)"/>
<path d="M289.2,77 A358.0,358.0 0 0,0 271.6,232" fill="none" stroke="#7a7a7a" stroke-width="16" filter="url(#b4)"/>
<circle cx="105" cy="134" r="5" fill="#fff" fill-opacity="0.3" filter="url(#b3)"/>
</g>
</g>
<circle cx="627.6" cy="193.8" r="363.0" fill="none" stroke="#e3191c" stroke-width="1.6"/>
</g>
<text x="642.3" y="385.9" font-size="27" fill="#7d6fc2">Pressure</text>
<text x="642.3" y="417.9" font-size="27" fill="#7d6fc2">R= 25.9 µm</text>
<rect x="880.5" y="606" width="98.5" height="4" fill="#fff"/>
<text x="930.0" y="603.2" font-size="27" fill="#fff" text-anchor="middle">5 µm</text>
<clipPath id="mc3"><rect x="0" y="0" width="363" height="264"/></clipPath>
<linearGradient id="rgp3" gradientUnits="userSpaceOnUse" x1="268" y1="0" x2="292" y2="0"><stop offset="0" stop-color="#fff"/><stop offset="1" stop-color="#000"/></linearGradient>
<linearGradient id="rgh3" gradientUnits="userSpaceOnUse" x1="262" y1="0" x2="300" y2="0"><stop offset="0" stop-color="#fff"/><stop offset="1" stop-color="#000"/></linearGradient>
<mask id="mp3" maskUnits="userSpaceOnUse" x="-50" y="-50" width="463" height="364"><rect x="-50" y="-50" width="463" height="364" fill="url(#rgp3)"/></mask>
<mask id="mh3" maskUnits="userSpaceOnUse" x="-50" y="-50" width="463" height="364"><rect x="-50" y="-50" width="463" height="364" fill="url(#rgh3)"/></mask>
<filter id="spk3" x="0" y="0" width="363" height="264" filterUnits="userSpaceOnUse" color-interpolation-filters="sRGB"><feTurbulence type="fractalNoise" baseFrequency="0.85" numOctaves="2" seed="14" result="t"/><feColorMatrix in="t" type="matrix" values="3.0 0 0 0 -1.05  3.0 0 0 0 -1.05  3.0 0 0 0 -1.05  0 0 0 0 1" result="n"/><feComposite in="SourceGraphic" in2="n" operator="arithmetic" k1="2.3" k2="0" k3="0" k4="0" result="m"/><feGaussianBlur in="m" stdDeviation="0.45"/></filter>
<g transform="translate(987,356)" clip-path="url(#mc3)">
<g filter="url(#spk3)">
<rect x="0" y="0" width="363" height="264" fill="#070707"/>
<ellipse cx="296" cy="149.0" rx="20" ry="70.0" fill="#161616" filter="url(#b12)"/>
<g mask="url(#mh3)"><polygon points="-10,104 40,97 94,84 174,72 230,71 277,72 284,73 278,225 272,223 230,216 174,207 94,186 40,174 -10,163" fill="#1c1c1c" stroke="#1c1c1c" stroke-width="18" stroke-linejoin="round" filter="url(#b8)"/></g>
<g mask="url(#mp3)">
<polygon points="-10,104 40,97 94,84 174,72 230,71 277,72 284,73 278,225 272,223 230,216 174,207 94,186 40,174 -10,163" fill="url(#intg)" stroke="url(#intg)" stroke-width="6" filter="url(#b3)"/>
<path d="M-10,97 C-1.7,95.8 22.7,93.3 40.0,90.0 C57.3,86.7 71.7,81.2 94.0,77.0 C116.3,72.8 151.3,67.2 174.0,65.0 C196.7,62.8 212.8,64.0 230.0,64.0 C247.2,64.0 268.0,64.7 277.0,65.0 C286.0,65.3 282.8,65.8 284.0,66.0" fill="none" stroke="url(#bandg)" stroke-opacity="0.33" stroke-width="22" filter="url(#b6)"/>
<path d="M-10,166 C-1.7,167.8 22.7,173.2 40.0,177.0 C57.3,180.8 71.7,183.5 94.0,189.0 C116.3,194.5 151.3,205.0 174.0,210.0 C196.7,215.0 213.7,216.3 230.0,219.0 C246.3,221.7 264.0,224.5 272.0,226.0 C280.0,227.5 277.0,227.7 278.0,228.0" fill="none" stroke="url(#bandg)" stroke-opacity="0.3" stroke-width="18" filter="url(#b6)"/>
<path d="M-10,104 C-1.7,102.8 22.7,100.3 40.0,97.0 C57.3,93.7 71.7,88.2 94.0,84.0 C116.3,79.8 151.3,74.2 174.0,72.0 C196.7,69.8 212.8,71.0 230.0,71.0 C247.2,71.0 268.0,71.7 277.0,72.0 C286.0,72.3 282.8,72.8 284.0,73.0" fill="none" stroke="url(#bandg)" stroke-width="12" filter="url(#b4)"/>
<path d="M-10,163 C-1.7,164.8 22.7,170.2 40.0,174.0 C57.3,177.8 71.7,180.5 94.0,186.0 C116.3,191.5 151.3,202.0 174.0,207.0 C196.7,212.0 213.7,213.3 230.0,216.0 C246.3,218.7 264.0,221.5 272.0,223.0 C280.0,224.5 277.0,224.7 278.0,225.0" fill="none" stroke="url(#bandg)" stroke-width="13" filter="url(#b4)"/>
<path d="M290.4,71 A385.4,385.4 0 0,0 270.5,227" fill="none" stroke="#7a7a7a" stroke-width="16" filter="url(#b4)"/>
<circle cx="51" cy="120" r="9" fill="#fff" fill-opacity="0.45" filter="url(#b3)"/>
</g>
</g>
<circle cx="654.7" cy="196.9" r="390.4" fill="none" stroke="#e3191c" stroke-width="1.6"/>
</g>
<text x="1006.3" y="385.9" font-size="27" fill="#60b4aa">Ultrasound</text>
<text x="1006.3" y="417.9" font-size="27" fill="#60b4aa">R = 28.1 µm</text>
<rect x="1243.5" y="606" width="98.5" height="4" fill="#fff"/>
<text x="1293.0" y="603.2" font-size="27" fill="#fff" text-anchor="middle">5 µm</text>
<text x="-0.2" y="689" font-size="29.5" fill="#000" text-anchor="start" >B</text>
<path d="M101.4 724 V1068.3 H674.2" fill="none" stroke="#000" stroke-width="3"/>
<line x1="85.5" y1="1068.3" x2="101.4" y2="1068.3" stroke="#000" stroke-width="3"/>
<text x="85.3" y="1075.3" font-size="27" fill="#000" text-anchor="end" >0.0</text>
<line x1="85.5" y1="896.9" x2="101.4" y2="896.9" stroke="#000" stroke-width="3"/>
<text x="85.3" y="904.5" font-size="27" fill="#000" text-anchor="end" >0.5</text>
<line x1="85.5" y1="725.5" x2="101.4" y2="725.5" stroke="#000" stroke-width="3"/>
<text x="85.3" y="732.1" font-size="27" fill="#000" text-anchor="end" >1.0</text>
<line x1="92" y1="982.5999999999999" x2="101.4" y2="982.5999999999999" stroke="#000" stroke-width="3"/>
<line x1="92" y1="811.1999999999999" x2="101.4" y2="811.1999999999999" stroke="#000" stroke-width="3"/>
<line x1="101.4" y1="1068.3" x2="101.4" y2="1084.5" stroke="#000" stroke-width="3"/>
<text x="100.5" y="1108.5" font-size="27" fill="#000" text-anchor="middle" >0</text>
<line x1="244.6" y1="1068.3" x2="244.6" y2="1084.5" stroke="#000" stroke-width="3"/>
<text x="243.7" y="1108.5" font-size="27" fill="#000" text-anchor="middle" >10</text>
<line x1="387.79999999999995" y1="1068.3" x2="387.79999999999995" y2="1084.5" stroke="#000" stroke-width="3"/>
<text x="386.9" y="1108.5" font-size="27" fill="#000" text-anchor="middle" >20</text>
<line x1="531.0" y1="1068.3" x2="531.0" y2="1084.5" stroke="#000" stroke-width="3"/>
<text x="530.1" y="1108.5" font-size="27" fill="#000" text-anchor="middle" >30</text>
<line x1="674.1999999999999" y1="1068.3" x2="674.1999999999999" y2="1084.5" stroke="#000" stroke-width="3"/>
<text x="673.3" y="1108.5" font-size="27" fill="#000" text-anchor="middle" >40</text>
<text x="401.2" y="1147.3" font-size="27.2" fill="#000" text-anchor="middle" >Radius (µm)</text>
<text font-size="27" transform="translate(29.1,921.3) rotate(-90)">I/I<tspan font-size="16" dy="8.8">max</tspan></text>
<polyline points="244.3,740.4 330.3,782.2 350.5,813.4 503.8,923.4" fill="none" stroke="#60b4aa" stroke-width="2.6"/>
<rect x="235.0" y="731.1" width="18.6" height="18.6" fill="#60b4aa"/>
<rect x="321.0" y="772.9000000000001" width="18.6" height="18.6" fill="#60b4aa"/>
<rect x="341.2" y="804.1" width="18.6" height="18.6" fill="#60b4aa"/>
<rect x="494.5" y="914.1" width="18.6" height="18.6" fill="#60b4aa"/>
<polyline points="242.1,721.6 316.8,746.8 312.4,848.2 472.2,924.4 613.3,1004.8" fill="none" stroke="#7d6fc2" stroke-width="2.6"/>
<rect x="229.0" y="733.1" width="18.6" height="18.6" fill="#7d6fc2"/>
<rect x="232.79999999999998" y="721.0" width="18.6" height="18.6" fill="#7d6fc2"/>
<rect x="307.5" y="737.5" width="18.6" height="18.6" fill="#7d6fc2"/>
<rect x="303.09999999999997" y="838.9000000000001" width="18.6" height="18.6" fill="#7d6fc2"/>
<rect x="462.9" y="915.1" width="18.6" height="18.6" fill="#7d6fc2"/>
<rect x="604.0" y="995.5" width="18.6" height="18.6" fill="#7d6fc2"/>
<line x1="456.5" y1="754" x2="498.5" y2="754" stroke="#7d6fc2" stroke-width="2.8" stroke-linecap="round"/>
<rect x="468.1" y="744.6" width="18.8" height="18.8" fill="#7d6fc2"/>
<line x1="456.5" y1="796.6" x2="498.5" y2="796.6" stroke="#60b4aa" stroke-width="2.8" stroke-linecap="round"/>
<rect x="468.1" y="787.2" width="18.8" height="18.8" fill="#60b4aa"/>
<text x="0" y="0" font-size="27" fill="#000" text-anchor="start" transform="translate(520.4,761.4) scale(0.953,1)">Pressure</text>
<text x="0" y="0" font-size="27" fill="#000" text-anchor="start" transform="translate(520.4,805) scale(0.953,1)">Ultrasound</text>
<text x="662.5" y="688.8" font-size="29.5" fill="#000" text-anchor="start" >C</text>
<path d="M804 688.2 H1195.2 V1079.8 H804 Z" fill="none" stroke="#000" stroke-width="3"/>
<line x1="1058.1" y1="688.2" x2="1058.1" y2="1079.8" stroke="#000" stroke-width="3"/>
<line x1="788" y1="1079.3" x2="804" y2="1079.3" stroke="#000" stroke-width="3"/>
<text x="780.3" y="1086.5" font-size="27" fill="#000" text-anchor="end" >0</text>
<line x1="788" y1="948.8" x2="804" y2="948.8" stroke="#000" stroke-width="3"/>
<text x="782.2" y="956.1" font-size="27" fill="#000" text-anchor="end" >10</text>
<line x1="788" y1="818.3" x2="804" y2="818.3" stroke="#000" stroke-width="3"/>
<text x="782" y="825.3" font-size="27" fill="#000" text-anchor="end" >20</text>
<line x1="788" y1="687.8" x2="804" y2="687.8" stroke="#000" stroke-width="3"/>
<text x="782" y="694.9" font-size="27" fill="#000" text-anchor="end" >30</text>
<line x1="1195.2" y1="1033.3" x2="1211.5" y2="1033.3" stroke="#000" stroke-width="3"/>
<text x="1219.3" y="1038.8" font-size="27" fill="#000" text-anchor="start" >-10</text>
<line x1="1195.2" y1="903.3" x2="1211.5" y2="903.3" stroke="#000" stroke-width="3"/>
<text x="1220" y="914.6" font-size="27" fill="#000" text-anchor="start" >0</text>
<line x1="1195.2" y1="773.3" x2="1211.5" y2="773.3" stroke="#000" stroke-width="3"/>
<text x="1216" y="782.3" font-size="27" fill="#000" text-anchor="start" >10</text>
<line x1="882.5" y1="1079.8" x2="882.5" y2="1096" stroke="#000" stroke-width="3"/>
<line x1="999.7" y1="1079.8" x2="999.7" y2="1096" stroke="#000" stroke-width="3"/>
<line x1="1116.7" y1="1079.8" x2="1116.7" y2="1096" stroke="#000" stroke-width="3"/>
<line x1="882.5" y1="712.7" x2="999.7" y2="741.8" stroke="#647bb2" stroke-width="3.0"/>
<line x1="882.5" y1="771.8" x2="999.7" y2="773.5" stroke="#647bb2" stroke-width="3.0"/>
<line x1="882.5" y1="806.9" x2="999.7" y2="814.0" stroke="#647bb2" stroke-width="3.0"/>
<line x1="882.5" y1="902.2" x2="999.7" y2="907.7" stroke="#647bb2" stroke-width="3.0"/>
<line x1="882.5" y1="960.8" x2="999.7" y2="978.5" stroke="#647bb2" stroke-width="3.0"/>
<line x1="882.5" y1="977.4" x2="999.7" y2="1008.4" stroke="#647bb2" stroke-width="3.0"/>
<line x1="882.5" y1="986.0" x2="999.7" y2="970.9" stroke="#647bb2" stroke-width="3.0"/>
<line x1="882.5" y1="994.2" x2="999.7" y2="997.9" stroke="#647bb2" stroke-width="3.0"/>
<line x1="882.5" y1="1016.7" x2="999.7" y2="1007.0" stroke="#647bb2" stroke-width="3.0"/>
<polygon points="882.5,1009.30 889.90,1024.10 875.10,1024.10" fill="#fff" stroke="#60b4aa" stroke-width="3.2" stroke-linejoin="miter"/>
<rect x="875.10" y="986.80" width="14.80" height="14.80" fill="#fff" stroke="#60b4aa" stroke-width="3.2"/>
<polygon points="882.5,978.23 890.27,986.0 882.5,993.77 874.73,986.0" fill="#fff" stroke="#60b4aa" stroke-width="3.2"/>
<circle cx="882.5" cy="977.4" r="7.40" fill="#fff" stroke="#60b4aa" stroke-width="3.2"/>
<circle cx="882.5" cy="960.8" r="7.80" fill="#60b4aa"/>
<rect x="874.80" y="705.00" width="15.40" height="15.40" fill="#60b4aa"/>
<polygon points="882.5,764.10 890.20,779.50 874.80,779.50" fill="#60b4aa" stroke-linejoin="miter"/>
<polygon points="882.5,814.60 890.20,799.20 874.80,799.20" fill="#60b4aa"/>
<polygon points="882.5,894.50 890.20,902.2 882.5,909.90 874.80,902.2" fill="#60b4aa"/>
<rect x="992.30" y="990.50" width="14.80" height="14.80" fill="#fff" stroke="#7d6fc2" stroke-width="3.2"/>
<circle cx="999.7" cy="1008.4" r="7.40" fill="#fff" stroke="#7d6fc2" stroke-width="3.2"/>
<polygon points="999.7,999.60 1007.10,1014.40 992.30,1014.40" fill="#fff" stroke="#7d6fc2" stroke-width="3.2" stroke-linejoin="miter"/>
<polygon points="999.7,963.13 1007.47,970.9 999.7,978.67 991.93,970.9" fill="#fff" stroke="#7d6fc2" stroke-width="3.2"/>
<circle cx="999.7" cy="978.5" r="7.80" fill="#7d6fc2"/>
<rect x="992.00" y="734.10" width="15.40" height="15.40" fill="#7d6fc2"/>
<polygon points="999.7,765.80 1007.40,781.20 992.00,781.20" fill="#7d6fc2" stroke-linejoin="miter"/>
<polygon points="999.7,821.70 1007.40,806.30 992.00,806.30" fill="#7d6fc2"/>
<polygon points="999.7,900.00 1007.40,907.7 999.7,915.40 992.00,907.7" fill="#7d6fc2"/>
<rect x="1066.10" y="898.00" width="14.80" height="14.80" fill="#fff" stroke="#647bb2" stroke-width="3.2"/>
<circle cx="1089.3" cy="934.0" r="7.40" fill="#fff" stroke="#647bb2" stroke-width="3.2"/>
<polygon points="1097.4,885.60 1104.80,900.40 1090.00,900.40" fill="#fff" stroke="#647bb2" stroke-width="3.2" stroke-linejoin="miter"/>
<polygon points="1132.5,879.93 1140.27,887.7 1132.5,895.47 1124.73,887.7" fill="#fff" stroke="#647bb2" stroke-width="3.2"/>
<polygon points="1101.1,918.10 1108.80,902.70 1093.40,902.70" fill="#647bb2"/>
<circle cx="1117.0" cy="920.7" r="7.80" fill="#647bb2"/>
<polygon points="1144.8,901.20 1152.50,908.9 1144.8,916.60 1137.10,908.9" fill="#647bb2"/>
<polygon points="1164.5,899.30 1172.20,914.70 1156.80,914.70" fill="#647bb2" stroke-linejoin="miter"/>
<rect x="1145.30" y="924.50" width="15.40" height="15.40" fill="#647bb2"/>
<g stroke="#000" stroke-width="3" fill="none"><line x1="1078" y1="911.1" x2="1156" y2="911.1"/><line x1="1097.7" y1="898.8" x2="1136.7" y2="898.8"/><line x1="1097.7" y1="923" x2="1136.7" y2="923"/><line x1="1117" y1="898.8" x2="1117" y2="923"/></g>
<text font-size="27" transform="translate(738.1,883.2) rotate(-90)" text-anchor="middle">Radius (µm)</text>
<text font-size="27" transform="translate(1249.6,897.3) rotate(90)" text-anchor="middle">Difference</text>
<text x="0" y="0" font-size="27" fill="#000" text-anchor="end" transform="translate(886.6,1111.5) rotate(-30)">Ultrasound</text>
<text x="0" y="0" font-size="27" fill="#000" text-anchor="end" transform="translate(1004,1111.4) rotate(-30)">Pressure</text>
<text x="0" y="0" font-size="27" fill="#000" text-anchor="end" transform="translate(1129.7,1114.5) rotate(-30)">Pressure -</text>
<text x="0" y="0" font-size="27" fill="#000" text-anchor="end" transform="translate(1147.4,1141.5) rotate(-30)">Ultrasound</text>
</svg>
</body></html>
